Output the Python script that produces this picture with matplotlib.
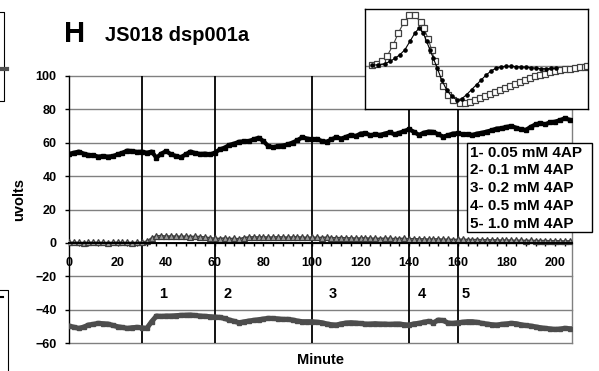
import numpy as np
import matplotlib
matplotlib.use("Agg")
import matplotlib.pyplot as plt
from matplotlib.lines import Line2D
from matplotlib.patches import Rectangle

plt.rcParams['font.family'] = ['Liberation Sans', 'DejaVu Sans']
plt.rcParams['font.weight'] = 'bold'

# time axis (minutes), one reading every 2 min
minutes = np.arange(0, 207, 2)

top_trace = [
    53.3, 54.0, 54.7, 53.5, 52.7, 52.5, 51.7, 52.0, 51.7, 52.0,
    53.0, 54.0, 55.3, 55.0, 54.5, 54.7, 54.0, 54.7, 51.0, 53.5,
    55.0, 53.0, 52.1, 51.3, 53.0, 54.7, 53.8, 53.3, 53.5, 53.0,
    54.0, 56.0, 57.0, 58.7, 59.5, 60.6, 60.8, 61.0, 62.0, 63.0,
    61.0, 58.0, 57.3, 58.0, 58.3, 59.0, 60.1, 61.5, 63.3, 62.5,
    62.0, 62.3, 61.0, 60.6, 62.0, 63.3, 62.5, 63.5, 64.7, 64.0,
    65.5, 65.7, 64.5, 65.0, 64.7, 65.5, 66.3, 65.0, 66.0, 67.0,
    68.1, 66.5, 64.7, 66.0, 66.7, 66.5, 65.0, 63.7, 64.5, 65.5,
    65.7, 65.0, 65.0, 64.7, 65.5, 66.0, 66.7, 67.5, 68.5, 68.7,
    69.5, 70.0, 69.0, 68.0, 67.7, 69.5, 71.0, 71.7, 71.0, 72.3,
    72.6, 73.5, 74.6, 73.8,
]

mid_trace = [
    0.3, 0.4, 0.3, 0.2, 0.3, 0.4, 0.3, 0.3, 0.2, 0.3,
    0.4, 0.3, 0.3, 0.2, 0.3, 0.4, 1.0, 3.0, 4.2, 4.3,
    4.0, 4.1, 4.0, 3.9, 4.0, 3.8, 3.9, 3.7, 3.5, 3.0,
    2.8, 2.6, 2.9, 2.5, 2.7, 2.4, 3.2, 3.5, 3.6, 3.5,
    3.6, 3.4, 3.5, 3.6, 3.5, 3.4, 3.5, 3.6, 3.4, 3.3,
    3.4, 3.3, 3.2, 3.4, 3.1, 3.0, 3.2, 2.9, 3.0, 2.8,
    2.9, 3.0, 2.7, 2.8, 2.6, 2.8, 2.7, 2.5, 2.6, 2.7,
    2.4, 2.5, 2.3, 2.4, 2.2, 2.3, 2.4, 2.1, 2.2, 2.0,
    2.1, 2.2, 2.0, 1.9, 2.0, 1.8, 1.9, 1.7, 1.8, 1.6,
    1.7, 1.6, 1.5, 1.6, 1.4, 1.5, 1.4, 1.3, 1.4, 1.2,
    1.3, 1.2, 1.1, 1.2,
]

low_trace = [
    -49.8, -50.5, -51.2, -50.5, -49.2, -48.8, -48.2, -48.4, -48.6, -49.4,
    -50.2, -50.7, -51.2, -50.8, -50.6, -50.9, -51.2, -47.2, -43.8, -44.0,
    -43.8, -43.8, -43.6, -43.4, -43.3, -43.2, -43.5, -43.8, -44.0, -44.2,
    -44.4, -44.6, -45.3, -46.2, -47.0, -47.8, -47.3, -46.8, -46.4, -46.0,
    -45.6, -45.2, -45.3, -45.5, -45.8, -45.8, -46.2, -46.8, -47.2, -47.2,
    -47.2, -47.5, -47.8, -48.5, -49.0, -49.2, -48.5, -48.0, -47.8, -48.0,
    -48.3, -48.6, -48.6, -48.4, -48.6, -48.6, -48.8, -48.6, -48.6, -49.0,
    -49.2, -48.5, -48.2, -47.5, -47.0, -47.8, -46.2, -46.5, -48.0, -48.2,
    -47.8, -47.5, -47.2, -47.2, -47.6, -48.2, -48.6, -49.0, -49.2, -48.8,
    -48.5, -48.2, -48.4, -49.0, -49.5, -49.8, -50.3, -50.8, -51.2, -51.5,
    -51.8, -51.6, -51.2, -51.4,
]

# drug application times and labels
drug_times = [30, 60, 100, 140, 160]
drug_marks = ["1", "2", "3", "4", "5"]
drug_mark_x = [38.7, 65.4, 108.6, 145.3, 163.4]
legend_lines = ["1- 0.05 mM 4AP", "2- 0.1 mM 4AP", "3- 0.2 mM 4AP",
                "4- 0.5 mM 4AP", "5- 1.0 mM 4AP"]

# inset waveforms (arbitrary units)
wave_a_x = [35, 50, 65, 82, 100, 115, 132, 148, 165, 182, 192, 205, 215, 225, 237,
            250, 265, 280, 300, 315, 330, 345, 360, 375, 390, 405, 420, 435, 450, 465,
            480, 495, 510, 525, 540, 555, 570, 585, 600, 615, 630, 645, 660, 675, 683]
wave_a_y = [5, 8, 15, 32, 65, 100, 132, 153, 153, 132, 115, 82, 50, 15, -20,
            -58, -85, -100, -110, -111, -108, -100, -96, -90, -84, -78, -72, -65, -58, -52,
            -46, -40, -35, -30, -26, -22, -18, -15, -12, -9, -7, -5, -3, -1, 0]
wave_b_x = [35, 55, 75, 90, 105, 120, 135, 150, 165, 178, 190, 200, 210, 220, 232,
            245, 260, 275, 290, 305, 320, 335, 350, 365, 380, 395, 410, 425, 440, 455,
            470, 485, 500, 515, 530, 545, 560, 575, 590]
wave_b_y = [3, 5, 8, 15, 24, 35, 50, 75, 100, 115, 100, 75, 50, 25, -5,
            -40, -70, -90, -100, -98, -85, -70, -55, -40, -25, -13, -5, -1, 0, 0,
            -1, -2, -3, -4, -6, -7, -7, -6, -5]

W, H = 599, 371
fig = plt.figure(figsize=(W / 100, H / 100), dpi=100)

def fx(px):
    return px / W

def fy(py):
    return 1 - py / H

ax = fig.add_axes([fx(69), fy(343), fx(572) - fx(69), fy(76) - fy(343)])
ax.set_xlim(0, 207)
ax.set_ylim(-60, 100)

grid_c = "#808080"
for yv in range(-60, 101, 20):
    ax.axhline(yv, color=grid_c, lw=1, zorder=1, clip_on=False)
ax.axvline(207, color=grid_c, lw=1, zorder=1, clip_on=False)

for xv in drug_times:
    ax.axvline(xv, color="black", lw=1.3, zorder=2)

ax.plot(minutes, low_trace, color="#4d4d4d", lw=3.6, marker="s", ms=2.5, zorder=3)
ax.plot(minutes, mid_trace, color="#404040", lw=1.2, marker="^", ms=5,
        mfc="#9a9a9a", mec="#3c3c3c", mew=0.9, zorder=4)
ax.plot(minutes, top_trace, color="black", lw=3, marker="s", ms=2.8, zorder=5)

ax.spines['top'].set_visible(False)
ax.spines['right'].set_visible(False)
ax.spines['bottom'].set_position(('data', 0))
ax.spines['bottom'].set_linewidth(1.4)
ax.spines['bottom'].set_zorder(6)
ax.spines['left'].set_linewidth(1)

ax.set_xticks(range(0, 201, 20))
ax.set_xticks(range(0, 207, 4), minor=True)
ax.set_yticks(range(-60, 101, 20))
ax.tick_params(axis='x', direction='out', length=2.5, width=1, pad=8, labelsize=9)
ax.tick_params(axis='x', which='minor', direction='out', length=2.5, width=1)
ax.tick_params(axis='y', direction='out', length=3, width=1, pad=6, labelsize=9)
for lab in ax.get_xticklabels() + ax.get_yticklabels():
    lab.set_fontweight('bold')

for xm, lab in zip(drug_mark_x, drug_marks):
    ax.text(xm, -33, lab, ha="center", va="baseline", fontsize=10.5, fontweight="bold")

fig.text(fx(19), fy(200), "uvolts", rotation=90, ha="center", va="center",
         fontsize=10.5, fontweight="bold")
fig.text(fx(320), fy(364), "Minute", ha="center", va="baseline",
         fontsize=10.5, fontweight="bold")

fig.text(fx(64), fy(42), "H", ha="left", va="baseline", fontsize=21, fontweight="bold")
fig.text(fx(105), fy(41), "JS018 dsp001a", ha="left", va="baseline",
         fontsize=14.5, fontweight="bold")

# legend box
fig.patches.append(Rectangle((fx(467), fy(232)), fx(592) - fx(467), fy(143) - fy(232),
                             transform=fig.transFigure, facecolor="white",
                             edgecolor="black", lw=1, zorder=10))
for i, line in enumerate(legend_lines):
    fig.text(fx(470), fy(156.5 + 18 * i), line, ha="left", va="baseline",
             fontsize=11, fontweight="bold", zorder=11)

# inset
ins = fig.add_axes([fx(365), fy(109), fx(588) - fx(365), fy(9) - fy(109)])
ins.set_xlim(15, 685)
ins.set_ylim(-128, 172)
ins.axhline(0, color=grid_c, lw=1, zorder=1)
ins.plot(wave_a_x, wave_a_y, color="#404040", lw=0.8, marker="s", ms=4,
         mfc="white", mec="#404040", mew=0.9, zorder=2)
ins.plot(wave_b_x, wave_b_y, color="black", lw=0.8, marker="o", ms=2.3,
         mfc="black", mec="black", zorder=3)
ins.set_xticks([])
ins.set_yticks([])
for s in ins.spines.values():
    s.set_linewidth(1)
    s.set_color("black")

# pieces of the neighbouring panels at the left edge
fig.add_artist(Line2D([fx(0), fx(4), fx(4), fx(0)], [fy(12), fy(12), fy(101), fy(101)],
                      color="black", lw=0.8))
fig.add_artist(Line2D([fx(0), fx(7)], [fy(69), fy(69)], color="#505050", lw=3))
fig.add_artist(Line2D([fx(0), fx(8), fx(8)], [fy(290), fy(290), fy(371)],
                      color="black", lw=0.8))
fig.add_artist(Line2D([fx(1), fx(3)], [fy(297), fy(297)], color="black", lw=1.5))

fig.savefig("out.png", dpi=100)
